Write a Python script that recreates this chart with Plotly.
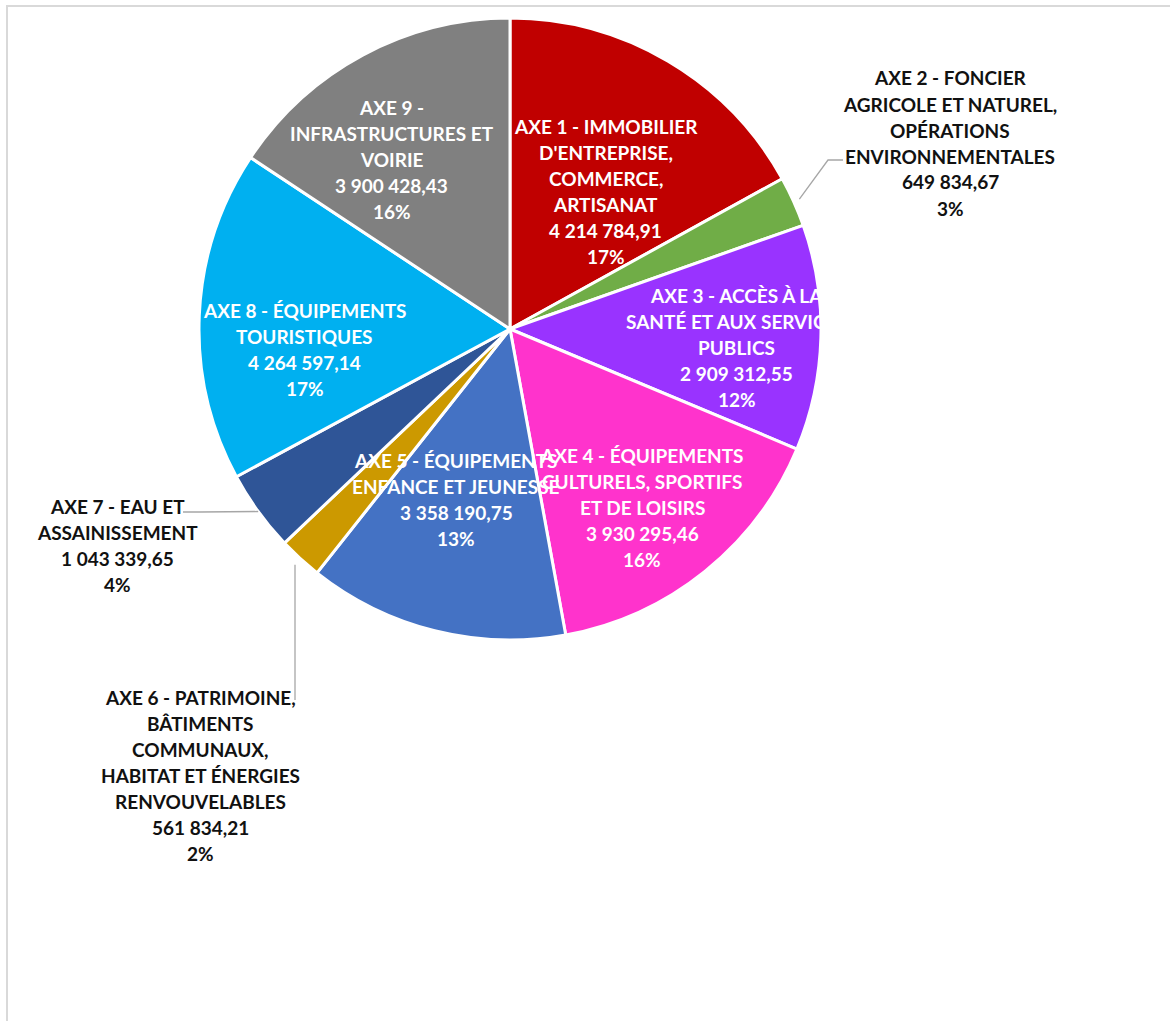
import math
import plotly.graph_objects as go

# ---- data ----
categories = [
    "AXE 1 - IMMOBILIER D'ENTREPRISE, COMMERCE, ARTISANAT",
    "AXE 2 - FONCIER AGRICOLE ET NATUREL, OPÉRATIONS ENVIRONNEMENTALES",
    "AXE 3 - ACCÈS À LA SANTÉ ET AUX SERVICES PUBLICS",
    "AXE 4 - ÉQUIPEMENTS CULTURELS, SPORTIFS ET DE LOISIRS",
    "AXE 5 - ÉQUIPEMENTS ENFANCE ET JEUNESSE",
    "AXE 6 - PATRIMOINE, BÂTIMENTS COMMUNAUX, HABITAT ET ÉNERGIES RENVOUVELABLES",
    "AXE 7 - EAU ET ASSAINISSEMENT",
    "AXE 8 - ÉQUIPEMENTS TOURISTIQUES",
    "AXE 9 - INFRASTRUCTURES ET VOIRIE",
]
values = [4214784.91, 649834.67, 2909312.55, 3930295.46, 3358190.75,
          561834.21, 1043339.65, 4264597.14, 3900428.43]
label_lines = [
    ["AXE 1 - IMMOBILIER", "D'ENTREPRISE,", "COMMERCE,", "ARTISANAT"],
    ["AXE 2 - FONCIER", "AGRICOLE ET NATUREL,", "OPÉRATIONS", "ENVIRONNEMENTALES"],
    ["AXE 3 - ACCÈS À LA", "SANTÉ ET AUX SERVICES", "PUBLICS"],
    ["AXE 4 - ÉQUIPEMENTS", "CULTURELS, SPORTIFS", "ET DE LOISIRS"],
    ["AXE 5 - ÉQUIPEMENTS", "ENFANCE ET JEUNESSE"],
    ["AXE 6 - PATRIMOINE,", "BÂTIMENTS", "COMMUNAUX,", "HABITAT ET ÉNERGIES", "RENVOUVELABLES"],
    ["AXE 7 - EAU ET", "ASSAINISSEMENT"],
    ["AXE 8 - ÉQUIPEMENTS", "TOURISTIQUES"],
    ["AXE 9 -", "INFRASTRUCTURES ET", "VOIRIE"],
]

# ---- style ----
colors = ["#C00000", "#70AD47", "#9933FF", "#FF33CC", "#4472C4",
          "#CC9900", "#2F5597", "#00B0F0", "#808080"]
W, H = 1170, 1021
CX, CY, R = 510, 329, 311          # pie centre / radius in px
FONT = "Lato"
FS = 19
LINE_H = 26
# inside labels: radial position as fraction of radius, plus pixel nudge
inside_r = {0: (0.53, 12, 4), 2: (0.73, 0, 12), 3: (0.72, -8, 4),
            4: (0.58, -10, -5), 7: (0.66, 0, 30), 8: (0.62, -27, 0)}
# outside labels: label centre in px and leader polyline (edge -> elbow -> end)
outside = {
    1: dict(pos=(950, 143), elbow=(828, 160), end=(843, 160), rr=1.02),
    5: dict(pos=(200, 775), end=(295, 700), rr=1.01, vertical=True),
    6: dict(pos=(117, 545), elbow=(200, 512), end=(183, 512), rr=1.0),
}


def fmt(v):
    s = f"{v:,.2f}"
    return s.replace(",", " ").replace(".", ",")


def pct_labels(vals):
    tot = sum(vals)
    raw = [v / tot * 100 for v in vals]
    fl = [math.floor(r) for r in raw]
    rem = 100 - sum(fl)
    order = sorted(range(len(vals)), key=lambda i: raw[i] - fl[i], reverse=True)
    for i in order[:rem]:
        fl[i] += 1
    return [f"{p}%" for p in fl]


pcts = pct_labels(values)
total = sum(values)

fig = go.Figure(go.Pie(
    labels=categories, values=values, sort=False, direction="clockwise",
    rotation=0,
    marker=dict(colors=colors, line=dict(color="white", width=3)),
    textinfo="none", hoverinfo="label+value+percent",
    domain=dict(x=[(CX - R) / W, (CX + R) / W], y=[1 - (CY + R) / H, 1 - (CY - R) / H]),
    showlegend=False,
))


def px2paper(x, y):
    return x / W, 1 - y / H


annotations = []
shapes = []


def add_label(lines, x, y, color):
    n = len(lines)
    for k, ln in enumerate(lines):
        ly = y + (k - (n - 1) / 2) * LINE_H
        px, py = px2paper(x, ly)
        annotations.append(dict(x=px, y=py, xref="paper", yref="paper", text=ln,
                                showarrow=False, xanchor="center", yanchor="middle",
                                font=dict(family=FONT, size=FS, color=color, weight=700)))


cum = 0.0
for i, v in enumerate(values):
    mid = (cum + v / 2) / total * 2 * math.pi
    cum += v
    lines = label_lines[i] + [fmt(v), pcts[i]]
    if i in inside_r:
        frac, nx, ny = inside_r[i]
        rr = frac * R
        x = CX + rr * math.sin(mid) + nx
        y = CY - rr * math.cos(mid) + ny
        add_label(lines, x, y, "white")
    else:
        o = outside[i]
        add_label(lines, o["pos"][0], o["pos"][1], "#111111")
        ex = CX + o["rr"] * R * math.sin(mid)
        ey = CY - o["rr"] * R * math.cos(mid)
        if o.get("vertical"):
            pts = [(o["end"][0], ey + 4), o["end"]]
        else:
            pts = [(ex, ey), o["elbow"], o["end"]]
        path = "M " + " L ".join(f"{px2paper(a, b)[0]},{px2paper(a, b)[1]}" for a, b in pts)
        shapes.append(dict(type="path", xref="paper", yref="paper", path=path,
                           line=dict(color="#A6A6A6", width=1.3)))

# chart-area frame
shapes.append(dict(type="rect", xref="paper", yref="paper",
                   x0=7 / W, y0=1 - 6 / H, x1=1.02, y1=-0.02,
                   line=dict(color="#D9D9D9", width=2), layer="below"))

fig.update_layout(
    width=W, height=H,
    margin=dict(l=0, r=0, t=0, b=0),
    paper_bgcolor="white", plot_bgcolor="white",
    annotations=annotations, shapes=shapes,
    font=dict(family=FONT),
)

fig.write_html("out.html")
